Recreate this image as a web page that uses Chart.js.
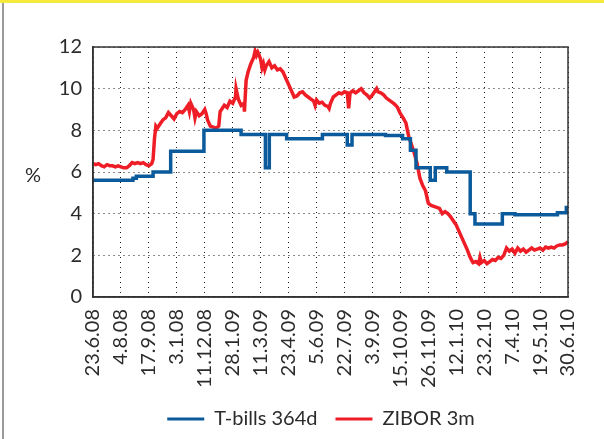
<!DOCTYPE html>
<html>
<head>
<meta charset="utf-8">
<script src="https://cdn.jsdelivr.net/npm/chart.js@4/dist/chart.umd.min.js"></script>
<style>
  html, body { margin: 0; padding: 0; background: #fff; }
  .graphic-wrap { position: relative; width: 604px; height: 439px; }
</style>
</head>
<body>
<div class="graphic-wrap"><canvas id="graphic"></canvas></div>
<script>
// Tick labels (x axis is measured in tick intervals, 0..17)
let dateLabels = ["23.6.08", "4.8.08", "17.9.08", "3.1.08", "11.12.08", "28.1.09", "11.3.09", "23.4.09",
    "5.6.09", "22.7.09", "3.9.09", "15.10.09", "26.11.09", "12.1.10", "23.2.10", "7.4.10", "19.5.10", "30.6.10"];
let yTicks = [0, 2, 4, 6, 8, 10, 12];

// T-bills 364d: positions where the rate changes, and the new rate
let billsX = [0, 1.43, 1.55, 2.15, 2.78, 3.97, 5.3, 6.17, 6.31, 6.93, 8.21, 9.1, 9.27, 10.47, 11.08,
    11.36, 11.56, 12.07, 12.25, 12.66, 13.5, 13.67, 14.65, 15.1, 16.62, 16.94, 17];
let billsY = [5.6, 5.7, 5.8, 6.0, 7.0, 8.0, 7.8, 6.2, 7.8, 7.6, 7.8, 7.3, 7.8, 7.75, 7.6,
    7.05, 6.2, 5.6, 6.2, 6.0, 4.0, 3.5, 4.0, 3.95, 4.05, 4.3, 4.3];

// ZIBOR 3m
let ziborX = [0, 0.1, 0.2, 0.3, 0.4, 0.5, 0.6, 0.7, 0.8, 0.9, 1.0, 1.1, 1.2, 1.3, 1.4, 1.5, 1.6, 1.7, 1.8, 1.9,
    2.0, 2.1, 2.15, 2.2, 2.25, 2.3, 2.4, 2.5, 2.6, 2.7, 2.8, 2.9, 3.0, 3.1, 3.2, 3.3, 3.4, 3.45, 3.5, 3.6,
    3.65, 3.7, 3.8, 3.9, 4.0, 4.05, 4.1, 4.2, 4.3, 4.4, 4.5, 4.55, 4.6, 4.7, 4.8, 4.9, 5.0, 5.1, 5.12, 5.2,
    5.3, 5.4, 5.42, 5.48, 5.55, 5.65, 5.75, 5.8, 5.85, 5.9, 5.95, 6.0, 6.05, 6.1, 6.15, 6.2, 6.3, 6.4, 6.5, 6.6,
    6.7, 6.8, 6.9, 7.0, 7.1, 7.2, 7.3, 7.4, 7.5, 7.6, 7.7, 7.8, 7.9, 7.95, 8.0, 8.1, 8.2, 8.3, 8.4, 8.45,
    8.5, 8.6, 8.7, 8.8, 8.9, 9.0, 9.1, 9.15, 9.2, 9.3, 9.4, 9.5, 9.6, 9.7, 9.8, 9.9, 10.0, 10.1, 10.15, 10.2,
    10.3, 10.4, 10.5, 10.6, 10.7, 10.8, 10.9, 11.0, 11.1, 11.2, 11.3, 11.4, 11.5, 11.6, 11.7, 11.8, 11.9, 12.0, 12.1, 12.2,
    12.3, 12.4, 12.5, 12.6, 12.7, 12.8, 12.9, 13.0, 13.1, 13.2, 13.3, 13.4, 13.5, 13.6, 13.7, 13.8, 13.85, 13.9, 14.0, 14.1,
    14.2, 14.3, 14.4, 14.5, 14.6, 14.7, 14.8, 14.9, 15.0, 15.1, 15.2, 15.3, 15.4, 15.5, 15.6, 15.7, 15.8, 15.9, 16.0, 16.1,
    16.2, 16.3, 16.4, 16.5, 16.6, 16.7, 16.8, 16.9, 17.0];
let ziborY = [6.4, 6.35, 6.4, 6.3, 6.25, 6.35, 6.3, 6.3, 6.25, 6.3, 6.25, 6.2, 6.2, 6.3, 6.45, 6.4, 6.45, 6.4, 6.45, 6.35,
    6.3, 6.4, 6.6, 7.6, 8.2, 8.1, 8.3, 8.5, 8.6, 8.85, 8.7, 8.55, 8.8, 8.9, 8.85, 9.0, 9.2, 8.9, 9.3, 9.0,
    8.6, 8.9, 8.7, 8.8, 9.0, 8.8, 8.5, 8.2, 8.15, 8.1, 8.2, 8.9, 9.0, 9.2, 9.1, 9.4, 9.3, 9.6, 10.0, 9.5,
    9.2, 9.3, 8.9, 10.4, 10.8, 11.2, 11.5, 11.8, 11.6, 11.75, 11.6, 11.4, 11.0, 11.2, 10.9, 11.1, 11.3, 11.0, 11.1, 10.9,
    10.95, 10.8, 10.5, 10.2, 9.9, 9.6, 9.65, 9.8, 9.85, 9.7, 9.6, 9.5, 9.4, 9.2, 9.45, 9.3, 9.35, 9.2, 9.15, 9.05,
    9.3, 9.6, 9.7, 9.8, 9.75, 9.85, 9.8, 9.05, 9.8, 9.9, 9.8, 9.9, 10.0, 9.8, 9.7, 9.55, 9.7, 9.9, 10.0, 9.85,
    9.8, 9.7, 9.55, 9.45, 9.35, 9.25, 9.1, 8.8, 8.6, 8.35, 7.7, 7.3, 6.9, 6.4, 5.7, 5.35, 5.1, 4.5, 4.4, 4.35,
    4.3, 4.25, 4.0, 4.1, 4.0, 3.85, 3.65, 3.45, 3.15, 2.85, 2.55, 2.25, 1.9, 1.65, 1.7, 1.6, 1.9, 1.65, 1.75, 1.6,
    1.7, 1.8, 1.75, 1.9, 1.85, 2.0, 2.35, 2.2, 2.3, 2.1, 2.35, 2.2, 2.3, 2.15, 2.25, 2.35, 2.25, 2.3, 2.35, 2.25,
    2.4, 2.35, 2.4, 2.35, 2.45, 2.5, 2.5, 2.55, 2.65];

let blue = "#0a5a9c";
let red = "#ee1d26";
let textColor = "#2b2b2b";
let fontFamily = "'Lato', 'DejaVu Sans', sans-serif";

let toPoints = function (xs, ys) {
    return xs.map(function (x, i) { return {x: x, y: ys[i]}; });
};

// page frame, "%" label and the box around the plot
let framePlugin = {
    id: "frame",
    beforeDraw: function (chart) {
        let ctx = chart.ctx;
        ctx.save();
        ctx.fillStyle = "#f6ea3c";
        ctx.fillRect(0, 0, chart.width, 3);
        ctx.fillStyle = "#9a9a9a";
        ctx.fillRect(2, 3, 2, chart.height - 3);
        ctx.restore();
    },
    afterDraw: function (chart) {
        let ctx = chart.ctx;
        let a = chart.chartArea;
        ctx.save();
        ctx.strokeStyle = "#333";
        ctx.lineWidth = 1.5;
        ctx.strokeRect(a.left, a.top, a.right - a.left, a.bottom - a.top);
        ctx.fillStyle = textColor;
        ctx.font = "20px " + fontFamily;
        ctx.textAlign = "center";
        ctx.textBaseline = "middle";
        ctx.fillText("%", 33, 176);
        ctx.restore();
    }
};

let gridStyle = {
    color: "#1a1a1a",
    lineWidth: 1,
    drawTicks: false
};

new Chart(document.getElementById("graphic").getContext("2d"), {
    type: "line",
    data: {
        datasets: [{
            label: "T-bills 364d",
            data: toPoints(billsX, billsY),
            borderColor: blue,
            backgroundColor: blue,
            borderWidth: 3.5,
            stepped: true,
            pointRadius: 0,
            order: 1
        }, {
            label: "ZIBOR 3m",
            data: toPoints(ziborX, ziborY),
            borderColor: red,
            backgroundColor: red,
            borderWidth: 3.5,
            tension: 0,
            pointRadius: 0,
            order: 2
        }]
    },
    options: {
        responsive: true,
        maintainAspectRatio: false,
        animation: false,
        layout: {
            padding: {left: 38, right: 0, top: 47, bottom: 0}
        },
        scales: {
            x: {
                type: "linear",
                min: 0,
                max: 17,
                grid: gridStyle,
                border: {color: "#333", width: 1.5, dash: [1, 4]},
                ticks: {
                    stepSize: 1,
                    autoSkip: false,
                    maxRotation: 90,
                    minRotation: 90,
                    padding: 12,
                    color: textColor,
                    font: {size: 20, family: fontFamily},
                    callback: function (value) {
                        return dateLabels[value];
                    }
                },
                afterFit: function (scale) {
                    scale.height = 94;
                }
            },
            y: {
                min: yTicks[0],
                max: yTicks[yTicks.length - 1],
                grid: gridStyle,
                border: {color: "#333", width: 1.5, dash: [1, 4]},
                ticks: {
                    stepSize: 2,
                    padding: 11,
                    color: textColor,
                    font: {size: 20, family: fontFamily}
                },
                afterFit: function (scale) {
                    scale.width = 55;
                }
            },
            y2: {
                position: "right",
                grid: {display: false},
                border: {display: false},
                ticks: {display: false},
                afterFit: function (scale) {
                    scale.width = 34;
                }
            }
        },
        plugins: {
            legend: {
                position: "bottom",
                labels: {
                    boxWidth: 37,
                    boxHeight: 3,
                    padding: 18,
                    color: textColor,
                    font: {size: 20, family: fontFamily},
                    generateLabels: function (chart) {
                        return Chart.defaults.plugins.legend.labels.generateLabels(chart).map(function (item) {
                            item.lineWidth = 0;
                            return item;
                        });
                    }
                }
            },
            tooltip: {enabled: false}
        }
    },
    plugins: [framePlugin]
});
</script>
</body>
</html>
